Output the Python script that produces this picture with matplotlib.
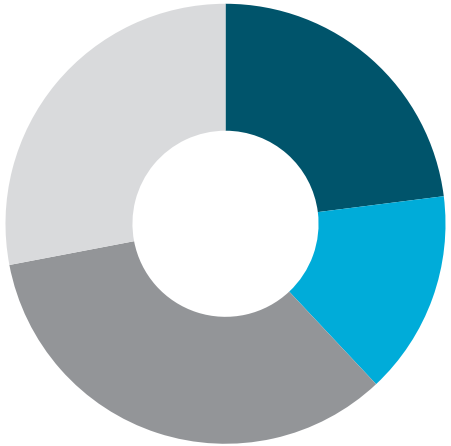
import matplotlib.pyplot as plt

# donut shares, clockwise from 12 o'clock
labels = ['A', 'B', 'C', 'D']
values = [23, 15, 34, 28]
colors = ['#00546b', '#00acd9', '#939598', '#d9dadc']

fig = plt.figure(figsize=(4.51, 4.46), dpi=100)
ax = fig.add_axes([0, 0, 1, 1])
ax.pie(values, colors=colors, startangle=90, counterclock=False,
       radius=1.0, wedgeprops=dict(width=0.577, linewidth=0))
ax.set_xlim(-1.025, 1.025)
ax.set_ylim(-1.01, 1.017)
ax.set_aspect('equal')
ax.axis('off')
fig.savefig('out.png', dpi=100)
